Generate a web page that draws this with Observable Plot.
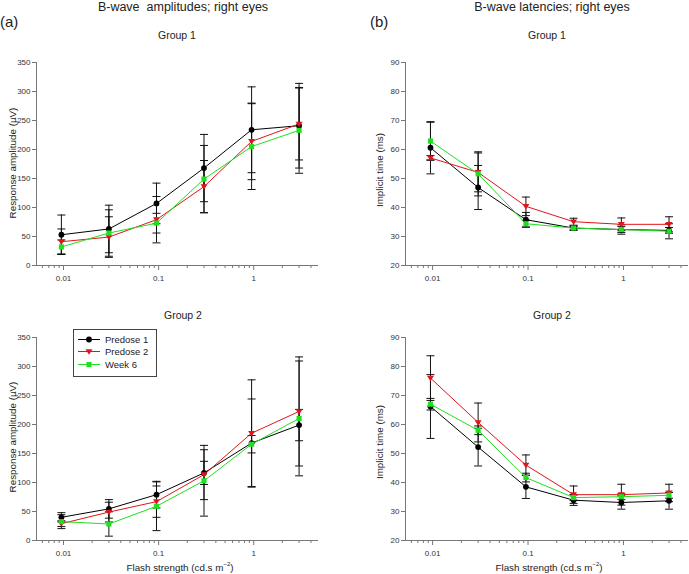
<!DOCTYPE html>
<html>
<head>
<meta charset="utf-8">
<script src="https://cdn.jsdelivr.net/npm/d3@7"></script>
<script src="https://cdn.jsdelivr.net/npm/@observablehq/plot@0.6"></script>
<style>
  body { margin: 0; background: #fff; }
  #root { position: relative; width: 689px; height: 574px; background: #fff; font-family: "Liberation Sans", Arial, sans-serif; color: #222; overflow: hidden; }
  .abs { position: absolute; white-space: nowrap; }
  .ctr { transform: translate(-50%, -50%); }
  .rot { transform: translate(-50%, -50%) rotate(-90deg); }
  .panel { position: absolute; }
</style>
</head>
<body>
<div id="root"></div>
<script>
// ---------- data ----------
const flash = [0.0095, 0.03, 0.095, 0.3, 0.95, 3];
const seriesNames = ["Predose 1", "Predose 2", "Week 6"];
const seriesColors = ["#000000", "#e0141c", "#1ee01e"];
const xMajorTicks = [0.01, 0.1, 1];
const xMinorTicks = [0.006, 0.007, 0.008, 0.009, 0.02, 0.03, 0.04, 0.05, 0.06, 0.07, 0.08, 0.09, 0.2, 0.3, 0.4, 0.5, 0.6, 0.7, 0.8, 0.9, 2, 3, 4];
const xDomain = [0.0052, 4.8];
const ampTicks = [0, 50, 100, 150, 200, 250, 300, 350];
const latTicks = [20, 30, 40, 50, 60, 70, 80, 90];

// Amplitudes (µV), Group 1
const ampG1Pre1 = [53, 63, 107, 168, 234, 241];
const ampG1Pre1Err = [34, 41, 35, 58, 74, 73];
const ampG1Pre2 = [41, 49, 79, 136, 214, 244];
const ampG1Pre2Err = [22, 35, 40, 45, 66, 62];
const ampG1Wk6 = [32, 56, 73, 149, 205, 233];
const ampG1Wk6Err = [12, 40, 17, 58, 74, 74];
// Amplitudes (µV), Group 2
const ampG2Pre1 = [40, 54.5, 79, 116.5, 168, 199];
const ampG2Pre1Err = [8, 16, 23, 20, 76, 27];
const ampG2Pre2 = [29, 49, 67, 113.5, 185, 222.5];
const ampG2Pre2Err = [5, 17, 27, 43, 92, 94];
const ampG2Wk6 = [32.5, 28.5, 59, 103, 166, 210.5];
const ampG2Wk6Err = [12, 21, 42, 61, 15, 99];
// Implicit times (ms), Group 1
const latG1Pre1 = [60.6, 46.9, 35.8, 32.9, 32.4, 32.1];
const latG1Pre1Err = [9, 7.6, 2.5, 0.8, 1.6, 1];
const latG1Pre2 = [57.1, 52.1, 40.4, 35.1, 34.2, 34.2];
const latG1Pre2Err = [0.8, 6.7, 3.2, 1.2, 2.2, 2.6];
const latG1Wk6 = [62.9, 51.6, 34.4, 32.9, 32.4, 31.8];
const latG1Wk6Err = [6.5, 7.6, 1.2, 0.6, 1, 2.6];
// Implicit times (ms), Group 2
const latG2Pre1 = [66.2, 52.2, 38.5, 33.9, 33.1, 33.7];
const latG2Pre1Err = [11, 6.5, 4, 1.8, 2.3, 2.9];
const latG2Pre2 = [76, 60.7, 46, 35.8, 35.8, 36.4];
const latG2Pre2Err = [7.7, 6.7, 3.5, 3, 3.6, 3];
const latG2Wk6 = [67, 58, 41.7, 34.8, 35.1, 35.6];
const latG2Wk6Err = [2, 1.5, 1.5, 1, 1, 1];

// ---------- helpers ----------
function table(vals, errs) {
  const rows = [];
  vals.forEach((v, s) => {
    v.forEach((y, i) => rows.push({series: seriesNames[s], si: s, x: flash[i], y, lo: y - errs[s][i], hi: y + errs[s][i]}));
  });
  return rows;
}
const capSymbol = { draw(ctx) { ctx.moveTo(-4, 0); ctx.lineTo(4, 0); } };
const triDown = { draw(ctx, size) { const s = Math.sqrt(size / Math.PI); ctx.moveTo(-s * 1.2, -s * 0.8); ctx.lineTo(s * 1.2, -s * 0.8); ctx.lineTo(0, s * 1.1); ctx.closePath(); } };
const symbols = ["circle", triDown, "square"];
const axisColor = "#777";

function panel({rows, yDomain, yTicks, width, height, marginLeft, marginRight, marginTop, marginBottom}) {
  const marks = [
    Plot.ruleY([yDomain[0]], {stroke: axisColor}),
    Plot.ruleX([xDomain[0]], {stroke: axisColor}),
    Plot.axisY({ticks: yTicks, tickSize: 4, tickPadding: 2, label: null, stroke: axisColor, fill: "#333"}),
    Plot.axisX({ticks: xMinorTicks, tickSize: 3, tickFormat: () => "", label: null, stroke: axisColor}),
    Plot.axisX({ticks: xMajorTicks, tickSize: 5, tickPadding: 5, tickFormat: d => String(d), label: null, stroke: axisColor, fill: "#333"}),
    Plot.ruleX(rows, {x: "x", y1: "lo", y2: "hi", stroke: "#111", strokeWidth: 1}),
    Plot.dot(rows, {x: "x", y: "lo", symbol: capSymbol, r: 3, stroke: "#111", fill: "none", strokeWidth: 1}),
    Plot.dot(rows, {x: "x", y: "hi", symbol: capSymbol, r: 3, stroke: "#111", fill: "none", strokeWidth: 1})
  ];
  seriesNames.forEach((name, s) => {
    const sub = rows.filter(d => d.si === s);
    marks.push(Plot.line(sub, {x: "x", y: "y", stroke: seriesColors[s], strokeWidth: 1}));
  });
  seriesNames.forEach((name, s) => {
    const sub = rows.filter(d => d.si === s);
    marks.push(Plot.dot(sub, {x: "x", y: "y", symbol: symbols[s], r: 2.9, fill: seriesColors[s], stroke: "none"}));
  });
  return Plot.plot({
    width, height, marginLeft, marginRight, marginTop, marginBottom,
    style: {fontSize: "8px", fontFamily: "'Liberation Sans', Arial, sans-serif", background: "transparent", overflow: "visible"},
    x: {type: "log", domain: xDomain, axis: null},
    y: {domain: yDomain, axis: null},
    marks
  });
}

const root = document.getElementById("root");
function place(el, left, top) { el.classList.add("panel"); el.style.left = left + "px"; el.style.top = top + "px"; root.appendChild(el); }
function text(str, x, y, size, cls = "ctr", extra = "") {
  const d = document.createElement("div");
  d.className = "abs " + cls;
  d.style.left = x + "px"; d.style.top = y + "px"; d.style.fontSize = size + "px";
  d.style.cssText += extra;
  d.innerHTML = str;
  root.appendChild(d);
}

const topM = {marginTop: 62, marginBottom: 22};
const botM = {marginTop: 50, marginBottom: 34};

place(panel({rows: table([ampG1Pre1, ampG1Pre2, ampG1Wk6], [ampG1Pre1Err, ampG1Pre2Err, ampG1Wk6Err]), yDomain: [0, 350], yTicks: ampTicks, width: 345, height: 287, marginLeft: 36, marginRight: 27, ...topM}), 0, 0);
place(panel({rows: table([ampG2Pre1, ampG2Pre2, ampG2Wk6], [ampG2Pre1Err, ampG2Pre2Err, ampG2Wk6Err]), yDomain: [0, 350], yTicks: ampTicks, width: 345, height: 287, marginLeft: 36, marginRight: 27, ...botM}), 0, 287);
place(panel({rows: table([latG1Pre1, latG1Pre2, latG1Wk6], [latG1Pre1Err, latG1Pre2Err, latG1Wk6Err]), yDomain: [20, 90], yTicks: latTicks, width: 344, height: 287, marginLeft: 60, marginRight: 1, ...topM}), 345, 0);
place(panel({rows: table([latG2Pre1, latG2Pre2, latG2Wk6], [latG2Pre1Err, latG2Pre2Err, latG2Wk6Err]), yDomain: [20, 90], yTicks: latTicks, width: 344, height: 287, marginLeft: 60, marginRight: 1, ...botM}), 345, 287);

// titles and labels
text("B-wave&nbsp;&nbsp;amplitudes; right eyes", 183, 7, 12.5);
text("B-wave latencies; right eyes", 552, 7, 12.5);
text("(a)", 0, 13, 15, "", "transform:none;");
text("(b)", 370, 13, 15, "", "transform:none;");
text("Group 1", 177, 35, 10.5);
text("Group 1", 547, 35, 10.5);
text("Group 2", 183, 315, 10.5);
text("Group 2", 552, 315, 10.5);
text("Response amplitude (µV)", 12, 163, 9.8, "rot");
text("Response amplitude (µV)", 12, 437, 9.8, "rot");
text("Implicit time (ms)", 379, 170, 9.8, "rot");
text("Implicit time (ms)", 379, 442, 9.8, "rot");
text("Flash strength (cd.s m<sup style='font-size:6px'>−2</sup>)", 180, 567, 9.8);
text("Flash strength (cd.s m<sup style='font-size:6px'>−2</sup>)", 549, 567, 9.8);

// legend
const leg = document.createElement("div");
leg.className = "abs";
leg.style.cssText += "left:73px;top:329px;width:82px;height:46px;border:1px solid #444;background:#fff;";
seriesNames.forEach((name, s) => {
  const row = document.createElement("div");
  row.style.cssText = `position:absolute;left:3px;top:${4 + s * 12.3}px;height:11px;display:flex;align-items:center;font-size:9.5px;`;
  const sw = d3.create("svg").attr("width", 24).attr("height", 11);
  sw.append("line").attr("x1", 1).attr("x2", 23).attr("y1", 5.5).attr("y2", 5.5).attr("stroke", seriesColors[s]);
  const sym = typeof symbols[s] === "string" ? (symbols[s] === "circle" ? d3.symbolCircle : d3.symbolSquare) : symbols[s];
  sw.append("path").attr("transform", "translate(12,5.5)").attr("d", d3.symbol(sym, Math.PI * 2.9 * 2.9)()).attr("fill", seriesColors[s]);
  row.appendChild(sw.node());
  const t = document.createElement("span");
  t.style.marginLeft = "4px";
  t.textContent = name;
  row.appendChild(t);
  leg.appendChild(row);
});
root.appendChild(leg);
</script>
</body>
</html>
